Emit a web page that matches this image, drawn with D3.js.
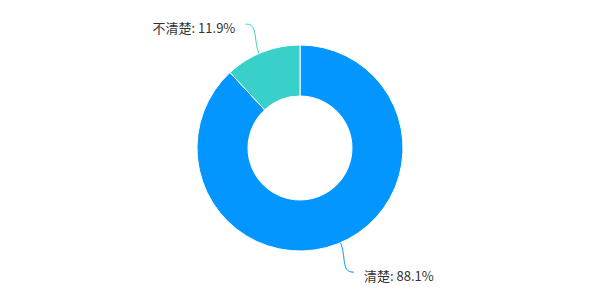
<!DOCTYPE html>
<html>
<head>
<meta charset="utf-8">
<script src="https://cdn.jsdelivr.net/npm/d3@7"></script>
<style>
  body { margin: 0; background: #fff; }
</style>
</head>
<body>
<div id="chart"></div>
<script>
const labels = ["清楚", "不清楚"];
const values = [88.1, 11.9];
const colors = ["#0396ff", "#39d0c9"];

const width = 601;
const height = 300;
const cx = 300, cy = 148;
const outerR = 103, innerR = 52;

const svg = d3.select("#chart")
  .append("svg")
  .attr("width", width)
  .attr("height", height)
  .style("font-family", "'Noto Sans CJK SC', sans-serif")
  .style("font-size", "13px");

const g = svg.append("g").attr("transform", `translate(${cx},${cy})`);

// 饼图布局，从正上方顺时针开始
const pie = d3.pie().sort(null).value(d => d.value);
const arcs = pie(labels.map((l, i) => ({ label: l, value: values[i], color: colors[i] })));

const arc = d3.arc().innerRadius(innerR).outerRadius(outerR);

g.selectAll("path.slice")
  .data(arcs)
  .enter()
  .append("path")
  .attr("class", "slice")
  .attr("d", arc)
  .attr("fill", d => d.data.color)
  .attr("stroke", "#fff")
  .attr("stroke-width", 1);

// 标签引导线：从扇区外沿弯曲到标签位置
const lineR = 135;
function polar(r, a) { return [r * Math.sin(a), -r * Math.cos(a)]; }

arcs.forEach(d => {
  const mid = (d.startAngle + d.endAngle) / 2 + (d.data.label === "清楚" ? -0.03 : -0.035);
  const p0 = polar(outerR, mid);
  const p1 = polar(lineR, mid);
  const right = Math.sin(mid) >= 0;
  const dir = right ? 1 : -1;
  const c1 = polar(outerR + 15, mid);
  const c2 = [p1[0] - dir * 12, p1[1]];
  const end = [p1[0] + dir * 1, p1[1]];

  g.append("path")
    .attr("fill", "none")
    .attr("stroke", d.data.color)
    .attr("stroke-width", 1)
    .attr("d", `M${p0[0]},${p0[1]} C${c1[0]},${c1[1]} ${c2[0]},${c2[1]} ${p1[0]},${p1[1]} L${end[0]},${end[1]}`);

  g.append("text")
    .attr("x", end[0] + dir * 10)
    .attr("y", end[1] + 3)
    .attr("dominant-baseline", "central")
    .attr("text-anchor", right ? "start" : "end")
    .attr("fill", "#333")
    .text(`${d.data.label}: ${d.data.value}%`);
});
</script>
</body>
</html>
